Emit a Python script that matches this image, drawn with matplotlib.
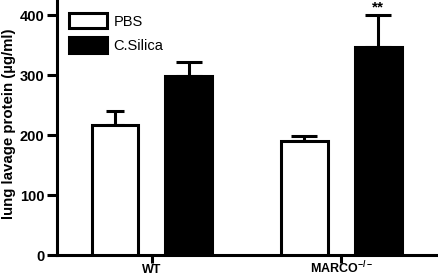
import matplotlib.pyplot as plt
import numpy as np

groups = ['WT', 'MARCO$^{-/-}$']
pbs = [216, 190]
pbs_err = [24, 8]
silica = [299, 347]
silica_err = [22, 53]

plt.rcParams['font.family'] = ['Liberation Sans', 'DejaVu Sans']
plt.rcParams['font.weight'] = 'bold'
plt.rcParams['mathtext.fontset'] = 'custom'
plt.rcParams['mathtext.rm'] = 'Liberation Sans:bold'
plt.rcParams['mathtext.default'] = 'rm'

fig = plt.figure(figsize=(4.38, 2.8), dpi=100)
ax = fig.add_axes([0.130, 0.089, 0.868, 0.911])

x = np.arange(len(groups))
off = 0.195
w = 0.245
lw = 2.2

ax.bar(x - off, pbs, w, color='white', edgecolor='black', linewidth=lw, label='PBS', zorder=3)
ax.bar(x + off, silica, w, color='black', edgecolor='black', linewidth=lw, label='C.Silica', zorder=3)
caps = [[6.5, 9.5], [9.5, 9.5]]
for i in range(len(groups)):
    ax.errorbar(x[i] - off, pbs[i], yerr=[[0], [pbs_err[i]]], fmt='none', ecolor='black',
                elinewidth=lw, capsize=caps[i][0], capthick=lw, zorder=2)
    ax.errorbar(x[i] + off, silica[i], yerr=[[0], [silica_err[i]]], fmt='none', ecolor='black',
                elinewidth=lw, capsize=caps[i][1], capthick=lw, zorder=2)

ax.text(x[1] + off, silica[1] + silica_err[1] + 1, '**', ha='center', va='bottom',
        fontsize=11, fontweight='bold')

ax.set_xlim(-0.5, 1.505)
ax.set_ylim(0, 425)
ax.set_yticks([0, 100, 200, 300, 400])
ax.set_xticks(x)
ax.set_xticklabels([])
for xi, g in zip(x, groups):
    ax.text(xi, -0.072, g, transform=ax.get_xaxis_transform(), ha='center', va='baseline',
            fontsize=9, fontweight='bold')
ax.tick_params(axis='y', labelsize=10.5, width=lw, length=7, pad=2)
ax.tick_params(axis='x', width=lw, length=6)
for t in ax.get_yticklabels():
    t.set_fontweight('bold')
ax.set_ylabel('lung lavage protein (µg/ml)', fontsize=10.8, fontweight='bold')
ax.yaxis.set_label_coords(-0.108, 0.515)

for s in ['top', 'right']:
    ax.spines[s].set_visible(False)
for s in ['left', 'bottom']:
    ax.spines[s].set_linewidth(lw)

leg = ax.legend(loc='upper left', bbox_to_anchor=(69 / 438, 1 - 13 / 280),
                bbox_transform=fig.transFigure, frameon=False, borderpad=0, borderaxespad=0,
                handlelength=2.6, handleheight=1.25, handletextpad=0.45,
                labelspacing=0.6, prop={'size': 10.5, 'weight': 'normal'})

fig.savefig('out.png', dpi=100)
